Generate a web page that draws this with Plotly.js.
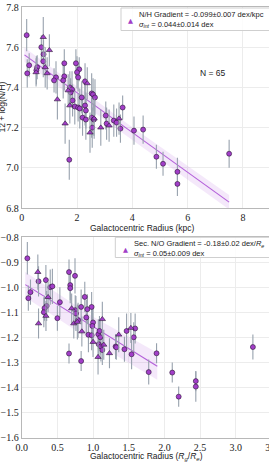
<!DOCTYPE html>
<html><head><meta charset="utf-8">
<script src="https://cdn.plot.ly/plotly-3.0.1.min.js"></script>
<style>html,body{margin:0;padding:0;overflow:hidden;background:#fff;width:269px;height:464px}#chart{width:290px;height:464px}</style>
</head><body><div id="chart"></div>
<script>
// ---- Top panel: 12 + log(N/H) vs galactocentric radius (kpc)
const topCircX = [0.18,0.27,0.20,0.71,0.79,0.78,0.56,0.53,1.54,1.24,1.17,1.54,1.50,1.96,2.08,2.00,2.04,1.74,1.82,1.77,1.84,1.92,2.04,2.17,2.29,2.29,2.53,2.58,2.65,2.32,3.04,2.20,3.65,1.72,2.32,2.53,2.55,2.61,3.07,3.33,3.43,3.57,4.06,4.39,4.87,5.11,5.63,5.63,7.50,2.10];
const topCircY = [7.66,7.51,7.47,7.60,7.565,7.53,7.50,7.485,7.52,7.45,7.435,7.455,7.435,7.52,7.49,7.475,7.45,7.40,7.39,7.375,7.335,7.305,7.30,7.35,7.43,7.31,7.37,7.365,7.35,7.285,7.26,7.25,7.30,7.04,7.24,7.25,7.20,7.24,7.22,7.235,7.225,7.195,7.185,7.19,7.055,7.02,6.98,6.92,7.07,7.295];
const topCircErr = [0.08,0.06,0.07,0.06,0.07,0.08,0.06,0.07,0.07,0.08,0.06,0.07,0.09,0.07,0.06,0.08,0.07,0.08,0.09,0.07,0.08,0.09,0.07,0.08,0.09,0.10,0.10,0.08,0.09,0.09,0.07,0.09,0.06,0.10,0.10,0.10,0.10,0.08,0.08,0.08,0.07,0.07,0.07,0.07,0.06,0.06,0.07,0.06,0.07,0.10];
const topTriX = [0.78,1.00,0.85,0.92,0.52,1.29,1.68,1.74,2.37,1.57,2.47,2.62,2.86,3.16,3.52];
const topTriY = [7.65,7.585,7.50,7.47,7.475,7.34,7.385,7.31,7.42,7.22,7.175,7.245,7.20,7.21,7.245];
const topTriErr = [0.10,0.08,0.10,0.08,0.07,0.10,0.08,0.09,0.08,0.10,0.10,0.10,0.09,0.08,0.08];
const topFitX = [0.1, 7.5];
const topFitY = [7.562, 6.829];
const topBandX = [0.1, 3.8, 7.5];
const topBandUp = [7.598, 7.222, 6.865];
const topBandLo = [7.526, 7.158, 6.793];

// ---- Bottom panel: secondary N/O vs galactocentric radius (Rg/Re)
const botCircX = [0.079,0.236,0.339,0.123,0.093,0.40,0.43,0.35,0.32,0.31,0.535,0.50,0.663,0.747,0.68,0.68,0.75,0.76,0.79,0.884,0.833,0.92,0.905,0.98,1.0,0.99,0.935,0.98,1.074,1.10,1.47,1.59,0.663,0.833,1.08,1.11,1.13,1.316,1.326,1.44,1.54,1.89,1.78,2.11,2.20,2.44,2.44,3.24,1.09,1.57];
const botCircY = [-0.885,-0.977,-0.972,-1.02,-1.044,-1.00,-0.997,-1.075,-1.084,-1.10,-1.06,-1.124,-0.94,-0.955,-0.992,-1.004,-1.092,-1.105,-1.132,-1.039,-1.079,-1.088,-1.121,-1.079,-1.141,-1.155,-1.19,-1.192,-1.188,-1.20,-1.175,-1.165,-1.265,-1.295,-1.228,-1.237,-1.251,-1.237,-1.24,-1.248,-1.268,-1.264,-1.339,-1.341,-1.437,-1.375,-1.397,-1.239,-1.175,-1.20];
const botCircErr = [0.065,0.06,0.06,0.05,0.05,0.07,0.07,0.06,0.05,0.06,0.06,0.05,0.05,0.07,0.06,0.06,0.06,0.07,0.07,0.06,0.07,0.06,0.07,0.06,0.07,0.07,0.07,0.06,0.06,0.07,0.07,0.06,0.04,0.04,0.06,0.06,0.06,0.05,0.05,0.05,0.06,0.04,0.05,0.04,0.04,0.04,0.06,0.05,0.06,0.06];
const botTriX = [0.226,0.37,0.34,0.236,0.70,0.73,0.78,0.843,1.13,1.36,1.00,1.07,1.23,1.53,1.15];
const botTriY = [-0.94,-1.04,-1.115,-1.145,-1.085,-1.145,-1.139,-1.177,-1.128,-1.19,-1.219,-1.279,-1.264,-1.163,-1.23];
const botTriErr = [0.07,0.06,0.06,0.06,0.06,0.06,0.07,0.06,0.07,0.07,0.06,0.07,0.06,0.06,0.06];
const botFitX = [0.05, 1.9];
const botFitY = [-0.99, -1.316];
const botBandX = [0.05, 1.0, 1.9];
const botBandUp = [-0.94, -1.118, -1.262];
const botBandLo = [-1.04, -1.218, -1.37];

const W = 290, H = 464;
const PURPLE = '#a23ec8', EDGE = '#2b1836', ERR = '#97a1ad';
const LINE = '#b35fd9', BAND = 'rgba(195,130,230,0.18)';

function band(xs, up, lo, xa, ya) {
  return {x: xs.concat(xs.slice().reverse()), y: up.concat(lo.slice().reverse()),
    xaxis: xa, yaxis: ya, type: 'scatter', mode: 'lines', fill: 'toself',
    fillcolor: BAND, line: {width: 0}, hoverinfo: 'skip'};
}
function fit(xs, ys, xa, ya) {
  return {x: xs, y: ys, xaxis: xa, yaxis: ya, type: 'scatter', mode: 'lines',
    line: {color: LINE, width: 1.1}, hoverinfo: 'skip'};
}
function pts(xs, ys, es, sym, sz, xa, ya) {
  return {x: xs, y: ys, xaxis: xa, yaxis: ya, type: 'scatter', mode: 'markers',
    error_y: {type: 'data', array: es, visible: true, color: ERR, thickness: 1.1, width: 0},
    marker: {symbol: sym, size: sz, color: PURPLE, line: {color: EDGE, width: 0.6}}};
}

const data = [
  band(topBandX, topBandUp, topBandLo, 'x', 'y'),
  fit(topFitX, topFitY, 'x', 'y'),
  pts(topCircX, topCircY, topCircErr, 'circle', 5, 'x', 'y'),
  pts(topTriX, topTriY, topTriErr, 'triangle-up', 5.5, 'x', 'y'),
  band(botBandX, botBandUp, botBandLo, 'x2', 'y2'),
  fit(botFitX, botFitY, 'x2', 'y2'),
  pts(botCircX, botCircY, botCircErr, 'circle', 5, 'x2', 'y2'),
  pts(botTriX, botTriY, botTriErr, 'triangle-up', 5.5, 'x2', 'y2')
];

const px = v => v / W;
const py = v => (H - v) / H;
const tickFont = {family: 'Liberation Serif, serif', size: 10, color: '#222'};
const sans = 'Liberation Sans, Arial, sans-serif';
const axBase = {showline: true, mirror: true, linecolor: '#b8b8b8', linewidth: 1,
  gridcolor: '#ececec', zeroline: false, ticks: '', tickfont: tickFont, fixedrange: true};

const layout = {
  width: W, height: H, margin: {l: 0, r: 0, t: 0, b: 0},
  paper_bgcolor: '#fff', plot_bgcolor: '#fff', showlegend: false,
  xaxis: Object.assign({}, axBase, {domain: [px(21.7), px(285)], range: [0, 9.52], dtick: 2, anchor: 'y'}),
  yaxis: Object.assign({}, axBase, {domain: [py(208), py(7)], range: [6.8, 7.8], dtick: 0.2, tickformat: '.1f', anchor: 'x'}),
  xaxis2: Object.assign({}, axBase, {domain: [px(21.7), px(285)], range: [0, 3.69], dtick: 0.5, tickformat: '.1f', anchor: 'y2'}),
  yaxis2: Object.assign({}, axBase, {domain: [py(437.5), py(237)], range: [-1.6, -0.8], dtick: 0.1, tickformat: '.1f', anchor: 'x2'}),
  shapes: [
    {type: 'rect', xref: 'paper', yref: 'paper', x0: px(121), x1: px(300), y0: py(30.5), y1: py(8),
     line: {color: '#cfcfcf', width: 1}, fillcolor: 'rgba(255,255,255,0.85)', layer: 'above'},
    {type: 'rect', xref: 'paper', yref: 'paper', x0: px(115.3), x1: px(300), y0: py(257.5), y1: py(237.3),
     line: {color: '#cfcfcf', width: 1}, fillcolor: 'rgba(255,255,255,0.85)', layer: 'above'}
  ],
  annotations: [
    {text: '12 + log(N/H)', xref: 'paper', yref: 'paper', x: px(1), y: py(107.5), textangle: -90,
     xanchor: 'center', yanchor: 'middle', showarrow: false, font: {family: sans, size: 8.5, color: '#222'}},
    {text: 'Galactocentric Radius (kpc)', xref: 'paper', yref: 'paper', x: px(142), y: py(227.5),
     xanchor: 'center', yanchor: 'middle', showarrow: false, font: {family: sans, size: 8.5, color: '#222'}},
    {text: 'Galactocentric Radius (<i>R</i><sub><i>g</i></sub>/<i>R</i><sub><i>e</i></sub>)', xref: 'paper', yref: 'paper', x: px(146), y: py(456),
     xanchor: 'center', yanchor: 'middle', showarrow: false, font: {family: sans, size: 8.5, color: '#222'}},
    {text: 'N = 65', xref: 'paper', yref: 'paper', x: px(213), y: py(73),
     xanchor: 'center', yanchor: 'middle', showarrow: false, font: {family: sans, size: 8.5, color: '#222'}},
    {text: 'N/H Gradient = -0.099±0.007 dex/kpc<br><i>σ</i><sub><i>int</i></sub> = 0.044±0.014 dex', xref: 'paper', yref: 'paper',
     x: px(137), y: py(19.5), xanchor: 'left', yanchor: 'middle', align: 'left', showarrow: false,
     font: {family: sans, size: 7.5, color: '#222'}},
    {text: '▲', xref: 'paper', yref: 'paper', x: px(130.7), y: py(20.5), xanchor: 'center', yanchor: 'middle',
     showarrow: false, font: {family: 'DejaVu Sans', size: 6.5, color: PURPLE}},
    {text: 'Sec. N/O Gradient = -0.18±0.02 dex/<i>R</i><sub><i>e</i></sub><br><i>σ</i><sub><i>int</i></sub> = 0.05±0.009 dex', xref: 'paper', yref: 'paper',
     x: px(131.5), y: py(248), xanchor: 'left', yanchor: 'middle', align: 'left', showarrow: false,
     font: {family: sans, size: 7.5, color: '#222'}},
    {text: '▲', xref: 'paper', yref: 'paper', x: px(125.3), y: py(250.5), xanchor: 'center', yanchor: 'middle',
     showarrow: false, font: {family: 'DejaVu Sans', size: 6.5, color: PURPLE}}
  ]
};

Plotly.newPlot('chart', data, layout, {staticPlot: true, displayModeBar: false});
</script></body></html>
